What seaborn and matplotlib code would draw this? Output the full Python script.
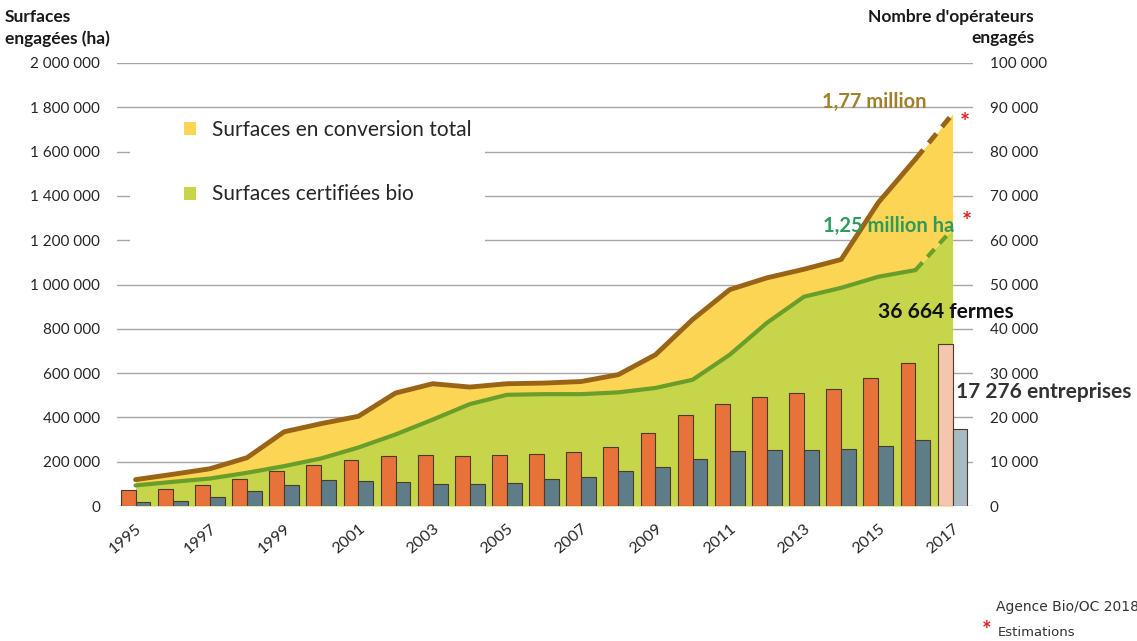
import numpy as np
import pandas as pd
import matplotlib
matplotlib.use("Agg")
import matplotlib.pyplot as plt
from matplotlib.patches import Rectangle
from matplotlib.ticker import FuncFormatter
from matplotlib.transforms import ScaledTranslation
import seaborn as sns

# Data
years = list(range(1995, 2018))
# surfaces (ha), left axis
surf_total = [119000, 143000, 168000, 218000, 335000, 372000, 405000, 510000, 552000, 537000,
              552000, 555000, 562000, 593000, 683000, 842000, 977000, 1030000, 1069000, 1113000,
              1370000, 1566000, 1770000]
surf_bio = [93000, 109000, 124000, 150000, 180000, 215000, 264000, 323000, 390000, 460000,
            502000, 505000, 505000, 513000, 533000, 570000, 683000, 827000, 945000, 985000,
            1035000, 1065000, 1250000]
# operators, right axis
fermes = [3700, 3950, 4700, 6000, 7900, 9200, 10400, 11300, 11500, 11200,
          11400, 11700, 12100, 13300, 16500, 20600, 23100, 24500, 25500, 26400,
          28800, 32200, 36664]
entreprises = [800, 1200, 1950, 3300, 4700, 5800, 5600, 5450, 5000, 5000,
               5200, 6100, 6500, 7800, 8900, 10700, 12400, 12550, 12750, 12900,
               13450, 14900, 17276]

W, H = 1137, 641

sns.set_theme(style="white")
plt.rcParams["font.family"] = ["Lato", "DejaVu Sans"]

c_yellow = "#fdd555"
c_green = "#c6d54a"
c_brown = "#9a6416"
c_gline = "#6a9e2a"
c_orange = "#e8733a"
c_grey = "#5e7d89"


def px(x, y):
    return x / W, 1 - y / H


fig = plt.figure(figsize=(W / 100, H / 100), dpi=100)
ax = fig.add_axes([117 / W, 135 / H, 856 / W, 443 / H])

pos = np.arange(len(years))
green_fill = ax.fill_between(pos, 0, surf_bio, color=c_green, lw=0, zorder=1,
                             label="Surfaces certifiées bio")
yellow_fill = ax.fill_between(pos, surf_bio, surf_total, color=c_yellow, lw=0, zorder=1,
                              label="Surfaces en conversion total")

# solid up to 2016, dashed estimate for 2017
sns.lineplot(x=pos[:-1], y=surf_total[:-1], color=c_brown, lw=3.5, ax=ax,
             solid_capstyle="round", zorder=3)
sns.lineplot(x=pos[-2:], y=surf_total[-2:], color=c_brown, lw=3.5, ax=ax,
             linestyle=(0, (2.5, 1.8)), zorder=3)
sns.lineplot(x=pos[:-1], y=surf_bio[:-1], color=c_gline, lw=3, ax=ax,
             solid_capstyle="round", zorder=3)
sns.lineplot(x=pos[-2:], y=surf_bio[-2:], color=c_gline, lw=3, ax=ax,
             linestyle=(0, (2.5, 1.8)), zorder=3)

ax.set_ylim(0, 2000000)
ax.set_yticks(np.arange(0, 2000001, 200000))
ax.yaxis.set_major_formatter(FuncFormatter(lambda v, p: f"{v:,.0f}".replace(",", " ")))
ax.grid(axis="y", color="#a6a6a6", lw=1)
ax.grid(axis="x", visible=False)
ax.set_axisbelow(True)

# white box behind the legend hides the grid
ax.add_patch(Rectangle((0.015, 0.578), 0.415, 0.31, transform=ax.transAxes,
                       facecolor="white", edgecolor="none", zorder=0.8))
ax.legend(handles=[yellow_fill, green_fill], frameon=False, loc="upper left",
          bbox_to_anchor=(0.078, 0.872), fontsize=15, handlelength=0.6, handleheight=0.6,
          labelspacing=2.15, handletextpad=0.75, borderpad=0, borderaxespad=0)

# bars on the right axis
ax2 = ax.twinx()
df = pd.DataFrame({
    "annee": years * 2,
    "type": ["fermes"] * len(years) + ["entreprises"] * len(years),
    "n": fermes + entreprises,
})
sns.barplot(data=df, x="annee", y="n", hue="type", palette=[c_orange, c_grey],
            saturation=1, width=0.8, errorbar=None, edgecolor="#4a3b2a", linewidth=0.8,
            legend=False, ax=ax2)
ax2.containers[0][-1].set_facecolor("#f5c6ad")
ax2.containers[1][-1].set_facecolor("#a6bbc3")
ax2.set_ylim(0, 100000)
ax2.set_yticks(np.arange(0, 100001, 10000))
ax2.yaxis.set_major_formatter(FuncFormatter(lambda v, p: f"{v:,.0f}".replace(",", " ")))
ax2.set_xlabel("")
ax2.set_ylabel("")
ax2.grid(False)

ax.set_xlim(-0.5, 22.55)
ax.set_xticks(pos[::2])
ax.set_xticklabels([str(y) for y in years[::2]], rotation=40, ha="right",
                   rotation_mode="anchor")
ax.set_xlabel("")
ax.set_ylabel("")
for lab in ax.get_xticklabels():
    lab.set_transform(lab.get_transform() + ScaledTranslation(-7 / 72, 0, fig.dpi_scale_trans))

ax.tick_params(axis="x", length=0, pad=11, labelsize=11.5, labelcolor="#262626")
ax.tick_params(axis="y", length=0, pad=12, labelsize=11, labelcolor="#262626")
ax2.tick_params(axis="y", length=0, pad=12, labelsize=11, labelcolor="#262626")
for a in (ax, ax2):
    for s in a.spines.values():
        s.set_visible(False)

# axis titles
fig.text(*px(5, 9), "Surfaces\nengagées (ha)", fontsize=12.5, weight="bold",
         va="top", ha="left", linespacing=1.4, color="#1a1a1a")
fig.text(*px(1034, 9), "Nombre d'opérateurs\nengagés", fontsize=12.5, weight="bold",
         va="top", ha="right", multialignment="right", linespacing=1.4, color="#1a1a1a")

# annotations
fig.text(*px(874, 102), "1,77 million", fontsize=14.5, weight="bold", color="#a0802a",
         ha="center", va="center")
fig.text(*px(889, 226), "1,25 million ha", fontsize=14.5, weight="bold", color="#2e9b5b",
         ha="center", va="center")
fig.text(*px(965, 124), "*", fontsize=17, weight="bold", color="#e02020",
         ha="center", va="center")
fig.text(*px(967, 222), "*", fontsize=17, weight="bold", color="#e02020",
         ha="center", va="center")
fig.text(*px(946, 312), "36 664 fermes", fontsize=15, weight="bold", color="#111111",
         ha="center", va="center")
fig.text(*px(956, 392), "17 276 entreprises", fontsize=15, weight="bold", color="#333333",
         ha="left", va="center")

# source / note
fig.text(*px(996, 607), "Agence Bio/OC 2018", fontsize=10, color="#333333",
         family="DejaVu Sans", ha="left", va="center")
fig.text(*px(998, 632), "Estimations", fontsize=9.5, color="#333333",
         family="DejaVu Sans", ha="left", va="center")
fig.text(*px(987, 630), "*", fontsize=16, weight="bold", color="#e02020",
         ha="center", va="center")

fig.savefig("out.png", dpi=100)
plt.close(fig)
